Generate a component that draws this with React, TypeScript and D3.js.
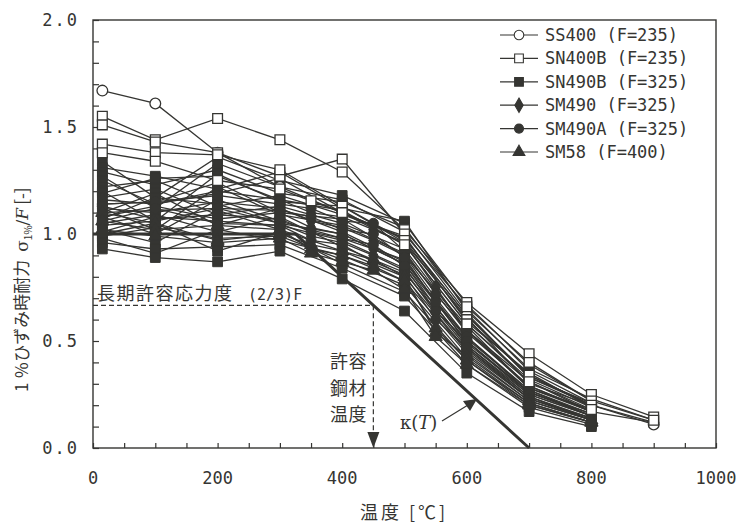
import * as d3 from 'd3';
import { useEffect, useRef } from 'react';

// temperature points (degC) used by the test series
const temps = [15, 100, 200, 300, 350, 400, 450, 500, 550, 600, 700, 800, 900];

// σ1%/F per series, aligned to temps (null = not measured)
const ss400 = [
    [1.67, 1.61, 1.38, 1.22, null, 1.10, null, 0.98, null, 0.62, 0.33, 0.20, 0.11],
];
const sn400b = [
    [1.55, 1.44, 1.54, 1.44, null, 1.29, null, 1.02, null, 0.68, 0.44, 0.25, 0.145],
    [1.51, 1.43, 1.38, 1.27, null, 1.35, null, 1.00, null, 0.66, 0.40, 0.22, 0.13],
    [1.42, 1.38, 1.37, 1.30, null, 1.13, null, 0.97, null, 0.60, 0.34, 0.20, null],
    [1.38, 1.34, 1.25, 1.21, 1.155, 1.10, null, 0.95, null, 0.58, 0.31, 0.18, null],
];
const sn490b = [
    [1.34, 1.17, 1.36, 1.25, null, 1.18, null, 1.05, null, 0.67, 0.39, 0.22, null],
    [1.31, 1.27, 1.21, 1.29, null, 1.12, null, 1.06, null, 0.64, 0.37, 0.23, 0.13],
    [1.29, 1.23, 1.30, 1.19, null, 1.15, null, 1.03, null, 0.65, 0.36, 0.21, null],
    [1.27, 1.12, 1.33, 1.22, null, 1.16, null, 1.01, null, 0.63, 0.33, 0.21, null],
    [1.25, 1.14, 1.19, 1.26, null, 1.10, null, 0.98, null, 0.62, 0.34, 0.20, null],
    [1.22, 1.25, 1.13, 1.18, null, 1.09, null, 0.99, null, 0.59, 0.35, 0.19, null],
    [1.20, 1.06, 1.28, 1.15, null, 1.13, null, 0.96, null, 0.61, 0.30, 0.20, 0.12],
    [1.19, 1.26, 1.27, 1.16, null, 1.11, null, 0.95, null, 0.58, 0.32, 0.19, null],
    [1.17, 1.21, 1.09, 1.13, null, 1.05, null, 0.93, null, 0.55, 0.31, 0.17, null],
    [1.14, 1.15, 1.24, 1.10, null, 1.07, null, 0.90, null, 0.57, 0.28, 0.18, null],
    [1.12, 1.02, 1.22, 1.09, null, 1.04, null, 0.91, null, 0.54, 0.29, 0.17, null],
    [1.10, 1.19, 1.04, 1.12, null, 1.01, null, 0.87, null, 0.51, 0.27, 0.15, null],
    [1.08, 1.00, 1.16, 1.06, null, 0.98, null, 0.88, null, 0.49, 0.26, 0.16, null],
    [1.07, 1.17, 1.14, 1.05, null, 1.00, null, 0.86, null, 0.50, 0.26, 0.16, null],
    [1.05, 1.09, 1.01, 1.08, null, 0.94, null, 0.82, null, 0.47, 0.24, 0.13, null],
    [1.02, 0.96, 1.11, 1.02, null, 0.92, null, 0.80, null, 0.45, 0.23, 0.14, null],
    [1.01, 1.08, 1.06, 1.04, null, 0.97, null, 0.84, null, 0.48, 0.25, 0.15, null],
    [1.00, 1.05, 0.92, 1.01, null, 0.86, null, 0.73, null, 0.41, 0.20, 0.12, null],
    [0.99, 1.03, 0.98, 0.99, null, 0.88, null, 0.76, null, 0.42, 0.21, 0.12, null],
    [0.98, 0.91, 1.02, 0.97, null, 0.90, null, 0.78, null, 0.44, 0.22, 0.13, null],
    [0.96, 0.93, 0.94, 0.95, null, 0.84, null, 0.71, null, 0.39, 0.19, 0.11, null],
    [0.93, 0.89, 0.87, 0.92, null, 0.79, null, 0.64, null, 0.35, 0.17, 0.10, null],
];
const sm490 = [
    [1.16, 1.14, 1.20, 1.16, 1.10, 1.08, 1.02, 0.96, 0.75, 0.55, 0.28, 0.17, null],
    [1.12, 1.10, 1.15, 1.12, 1.06, 1.03, 0.97, 0.90, 0.70, 0.52, 0.26, 0.15, null],
    [1.08, 1.13, 1.07, 1.10, 1.03, 1.00, 0.93, 0.86, 0.66, 0.48, 0.24, 0.14, null],
    [1.04, 1.06, 1.12, 1.05, 0.99, 0.96, 0.90, 0.83, 0.63, 0.46, 0.23, 0.13, null],
];
const sm490a = [
    [1.14, 1.15, 1.18, 1.14, 1.12, 1.06, 1.05, 0.92, 0.72, 0.55, 0.29, 0.17, 0.12],
    [1.10, 1.11, 1.12, 1.11, 1.08, 1.02, 1.00, 0.89, 0.68, 0.52, 0.27, 0.16, null],
    [1.13, 1.07, 1.09, 1.07, 1.01, 0.98, 0.95, 0.85, 0.64, 0.50, 0.25, 0.15, null],
    [1.06, 1.12, 1.05, 1.04, 0.97, 0.95, 0.87, 0.81, 0.60, 0.47, 0.23, 0.14, null],
];
const sm58 = [
    [1.10, 1.05, 0.97, 1.00, 0.95, 0.92, 0.88, 0.80, 0.54, 0.43, 0.22, 0.13, null],
    [1.06, 1.02, 1.04, 1.02, 0.93, 0.90, 0.85, 0.78, 0.56, 0.41, 0.21, 0.12, null],
    [1.02, 0.99, 0.96, 0.98, 0.91, 0.87, 0.83, 0.74, 0.52, 0.39, 0.20, 0.12, null],
];

// κ(T) reduction line
const kappaT = [0, 325, 700];
const kappaV = [1, 1, 0];

const legendLabels = ['SS400 (F=235)', 'SN400B (F=235)', 'SN490B (F=325)', 'SM490 (F=325)', 'SM490A (F=325)', 'SM58 (F=400)'];
const xTickLabels = [0, 200, 400, 600, 800, 1000];
const yTickLabels = [0, 0.5, 1.0, 1.5, 2.0];
const allowStress = 2 / 3;
const allowTemp = 450;

const INK = '#353532';

export default function App() {
    const ref = useRef<SVGSVGElement>(null);

    useEffect(() => {
        const svg = d3.select(ref.current);
        svg.selectAll('*').remove();

        const x = d3.scaleLinear().domain([0, 1000]).range([93, 716]);
        const y = d3.scaleLinear().domain([0, 2]).range([448, 20]);

        const groups = [
            { data: ss400, type: d3.symbolCircle, size: 90, open: true },
            { data: sn400b, type: d3.symbolSquare, size: 95, open: true },
            { data: sn490b, type: d3.symbolSquare, size: 95, open: false },
            { data: sm490, type: d3.symbolDiamond, size: 75, open: false },
            { data: sm490a, type: d3.symbolCircle, size: 80, open: false },
            { data: sm58, type: d3.symbolTriangle, size: 75, open: false },
        ];

        // frame
        svg.append('rect')
            .attr('x', x(0)).attr('y', y(2))
            .attr('width', x(1000) - x(0)).attr('height', y(0) - y(2))
            .attr('fill', 'none').attr('stroke', INK).attr('stroke-width', 1.4);

        // inward ticks
        const xAxis = svg.append('g').attr('transform', `translate(0,${y(0)})`)
            .call(d3.axisBottom(x).tickValues(d3.range(0, 1001, 50)).tickSizeInner(-5).tickSizeOuter(0).tickFormat(() => ''));
        xAxis.select('.domain').remove();
        xAxis.selectAll('line').attr('stroke', INK).attr('stroke-width', 1.2);

        const yAxis = svg.append('g').attr('transform', `translate(${x(0)},0)`)
            .call(d3.axisLeft(y).tickValues(d3.range(0, 2.01, 0.1)).tickSizeInner(-6).tickSizeOuter(0).tickFormat(() => ''));
        yAxis.select('.domain').remove();
        yAxis.selectAll('line').attr('stroke', INK).attr('stroke-width', 1.2);

        // tick labels
        svg.append('g').selectAll('text').data(xTickLabels).join('text')
            .attr('x', (d) => x(d)).attr('y', 484)
            .attr('text-anchor', 'middle')
            .style('font-family', 'DejaVu Sans Mono').style('font-size', '17px').attr('fill', INK)
            .text((d) => d);
        svg.append('g').selectAll('text').data(yTickLabels).join('text')
            .attr('x', 79).attr('y', (d) => y(d) + 6)
            .attr('text-anchor', 'end')
            .style('font-family', 'DejaVu Sans Mono').style('font-size', '17px').style('letter-spacing', '2px')
            .attr('fill', INK)
            .text((d) => d.toFixed(1));

        // axis titles
        svg.append('text')
            .attr('x', 404).attr('y', 519).attr('text-anchor', 'middle')
            .style('font-family', 'Noto Sans CJK JP').style('font-size', '18px').style('letter-spacing', '3px')
            .attr('fill', INK)
            .text('温度 [℃]');

        const yt = svg.append('text')
            .attr('transform', 'translate(28,392) rotate(-90)')
            .style('font-family', 'Noto Sans CJK JP').style('font-size', '17px').attr('fill', INK);
        yt.append('tspan').text('1 ％ひずみ時耐力');
        yt.append('tspan').attr('dx', 8).style('font-family', 'DejaVu Serif').text('σ');
        yt.append('tspan').attr('dy', 4).style('font-size', '10px').text('1%');
        yt.append('tspan').attr('dy', -4).style('font-family', 'DejaVu Serif').text('/');
        yt.append('tspan').style('font-family', 'DejaVu Serif').style('font-style', 'italic').text('F');
        yt.append('tspan').attr('dx', 3).text('[-]');

        const line = d3.line<[number, number]>().x((d) => x(d[0])).y((d) => y(d[1]));
        const toPts = (vals: (number | null)[]) =>
            vals.map((v, i) => [temps[i], v] as [number, number | null]).filter((p) => p[1] != null) as [number, number][];

        // κ(T) under the data
        svg.append('path')
            .attr('d', line(kappaT.map((t, i) => [t, kappaV[i]])))
            .attr('fill', 'none').attr('stroke', INK).attr('stroke-width', 3);

        // data lines
        groups.forEach((g) => {
            g.data.forEach((vals) => {
                svg.append('path')
                    .attr('d', line(toPts(vals)))
                    .attr('fill', 'none').attr('stroke', INK).attr('stroke-width', 1.3);
            });
        });

        // markers: filled first, open on top
        const order = [...groups.filter((g) => !g.open), ...groups.filter((g) => g.open)];
        order.forEach((g) => {
            const sym = d3.symbol().type(g.type).size(g.size);
            g.data.forEach((vals) => {
                svg.append('g').selectAll('path').data(toPts(vals)).join('path')
                    .attr('transform', (d) => `translate(${x(d[0])},${y(d[1])})`)
                    .attr('d', sym())
                    .attr('fill', g.open ? '#fff' : INK)
                    .attr('stroke', INK).attr('stroke-width', g.open ? 1.3 : 1);
            });
        });

        // long-term allowable stress and allowable temperature
        svg.append('line')
            .attr('x1', x(0)).attr('x2', x(allowTemp))
            .attr('y1', y(allowStress)).attr('y2', y(allowStress))
            .attr('stroke', INK).attr('stroke-width', 1.2).attr('stroke-dasharray', '5,3');
        svg.append('line')
            .attr('x1', x(allowTemp)).attr('x2', x(allowTemp))
            .attr('y1', y(allowStress)).attr('y2', y(0) - 14)
            .attr('stroke', INK).attr('stroke-width', 1.2).attr('stroke-dasharray', '5,3');
        svg.append('path')
            .attr('d', `M${x(allowTemp) - 6},${y(0) - 16}L${x(allowTemp) + 6},${y(0) - 16}L${x(allowTemp)},${y(0)}Z`)
            .attr('fill', INK);

        svg.append('text')
            .attr('x', 97).attr('y', y(allowStress) - 5)
            .style('font-family', 'Noto Sans CJK JP').style('font-size', '18px').style('letter-spacing', '1.5px')
            .attr('fill', INK).text('長期許容応力度');
        svg.append('text')
            .attr('x', 248).attr('y', y(allowStress) - 5)
            .style('font-family', 'DejaVu Sans Mono').style('font-size', '15px')
            .attr('fill', INK).text('(2/3)F');

        ['許容', '鋼材', '温度'].forEach((s, i) => {
            svg.append('text')
                .attr('x', 330).attr('y', 368 + i * 26.5)
                .style('font-family', 'Noto Sans CJK JP').style('font-size', '18px').style('letter-spacing', '0.5px')
                .attr('fill', INK).text(s);
        });

        // κ(T) label and arrow
        const kl = svg.append('text').attr('x', 400).attr('y', 429)
            .style('font-family', 'DejaVu Serif').style('font-size', '18px').attr('fill', INK);
        kl.append('tspan').text('κ(');
        kl.append('tspan').style('font-style', 'italic').text('T');
        kl.append('tspan').text(')');
        svg.append('line').attr('x1', 442).attr('y1', 421).attr('x2', 468).attr('y2', 405)
            .attr('stroke', INK).attr('stroke-width', 1.3);
        svg.append('path').attr('d', 'M477,399L463,401L470,411Z').attr('fill', INK);

        // legend
        legendLabels.forEach((lab, i) => {
            const cy = 35 + i * 23.4;
            const g = groups[i];
            svg.append('line').attr('x1', 500).attr('x2', 538).attr('y1', cy).attr('y2', cy)
                .attr('stroke', INK).attr('stroke-width', 1.2);
            svg.append('path')
                .attr('transform', `translate(519,${cy})`)
                .attr('d', d3.symbol().type(g.type).size(g.size * 0.8)())
                .attr('fill', g.open ? '#fff' : INK).attr('stroke', INK).attr('stroke-width', 1.1);
            svg.append('text').attr('x', 545).attr('y', cy + 6)
                .style('font-family', 'DejaVu Sans Mono').style('font-size', '17px')
                .attr('fill', INK).text(lab);
        });
    }, []);

    return (
        <svg ref={ref} width={741} height={524}
            style={{ position: 'absolute', left: 0, top: 0, background: '#fff' }} />
    );
}
